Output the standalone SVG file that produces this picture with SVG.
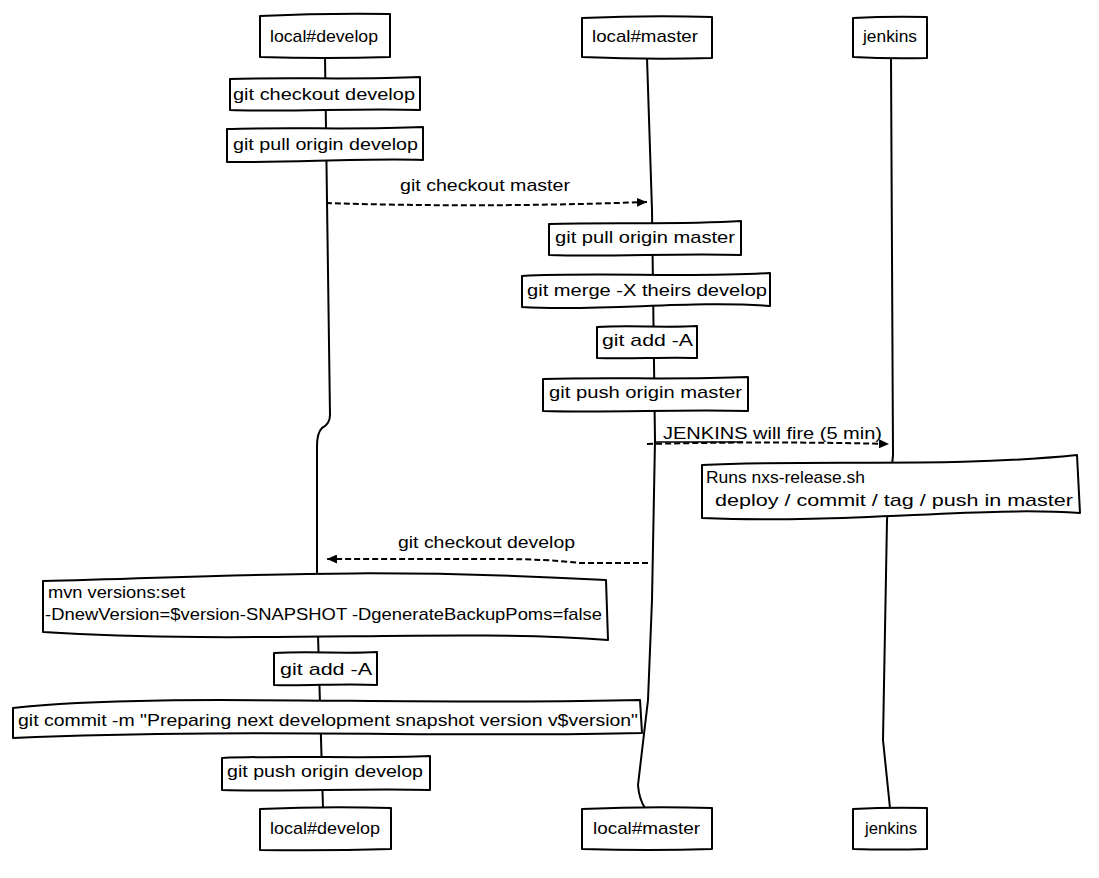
<svg xmlns="http://www.w3.org/2000/svg" width="1099" height="878" viewBox="0 0 1099 878">
<style>
.box{fill:#fff;stroke:#000;stroke-width:2;stroke-linejoin:round}
.life{fill:none;stroke:#000;stroke-width:2}
.msg{fill:none;stroke:#000;stroke-width:2;stroke-dasharray:6 3}
text{font-family:"Liberation Sans",Arial,sans-serif;font-size:17px;fill:#000}
</style>
<defs>
<marker id="ah" markerWidth="11" markerHeight="9" refX="10" refY="4.5" orient="auto" markerUnits="userSpaceOnUse">
<path d="M0,0 L10,4.5 L0,9 Z" fill="#000"/>
</marker>
</defs>
<rect width="1099" height="878" fill="#fff"/>
<g id="lifelines">
<path class="life" d="M325,57 L330,415 Q330,424 322,428 Q317,433 317,446 L317,600 L323,808"/>
<path class="life" d="M647,58 L652,210 L655,440 L652,600 L648,700 L638,785 Q639,799 645,808"/>
<path class="life" d="M891,58 L893,455 L887,520 L883,740 L890,808"/>
</g>
<g id="actor-develop-top"><path class="box" d="M260,16 Q325,13 390,14 L390,57 Q325,59 260,57 Z"/><text x="270" y="42" textLength="108" lengthAdjust="spacingAndGlyphs">local#develop</text></g>
<g id="actor-master-top"><path class="box" d="M582,18 Q650,15 712,17 L712,58 Q650,60 582,57 Z"/><text x="592" y="42" textLength="106" lengthAdjust="spacingAndGlyphs">local#master</text></g>
<g id="actor-jenkins-top"><path class="box" d="M853,18 Q890,16 927,17 L927,58 Q890,59 853,57 Z"/><text x="863" y="42" textLength="54" lengthAdjust="spacingAndGlyphs">jenkins</text></g>
<g id="connectors">
<path class="msg" d="M326,203 Q480,208 647,202" marker-end="url(#ah)"/>
<path class="msg" d="M647,444 Q770,441 889,444" marker-end="url(#ah)"/>
<path class="msg" d="M648,563 L580,563 Q545,559 500,559 L327,559" marker-end="url(#ah)"/>
<text x="400" y="191" textLength="170" lengthAdjust="spacingAndGlyphs">git checkout master</text>
<text x="663" y="439" textLength="219" lengthAdjust="spacingAndGlyphs">JENKINS will fire (5 min)</text>
<line x1="655" y1="442" x2="743" y2="442" stroke="#000" stroke-width="1.5"/>
<text x="398" y="548" textLength="177" lengthAdjust="spacingAndGlyphs">git checkout develop</text>
</g>
<g id="note-checkout-develop"><path class="box" d="M230,79 C290,77 360,80 420,77 L420,110 C360,108 290,112 230,110 Z"/><text x="233" y="100" textLength="182" lengthAdjust="spacingAndGlyphs">git checkout develop</text></g>
<g id="note-pull-develop"><path class="box" d="M227,129 C290,127 360,130 423,127 L423,160 C360,158 290,163 227,162 Z"/><text x="233" y="150" textLength="185" lengthAdjust="spacingAndGlyphs">git pull origin develop</text></g>
<g id="note-pull-master"><path class="box" d="M549,224 C610,222 680,225 741,221 L741,255 C680,253 610,257 549,255 Z"/><text x="555" y="243" textLength="180" lengthAdjust="spacingAndGlyphs">git pull origin master</text></g>
<g id="note-merge"><path class="box" d="M522,276 C600,272 690,278 770,273 L770,306 C690,300 600,312 522,307 Z"/><text x="527" y="296" textLength="240" lengthAdjust="spacingAndGlyphs">git merge -X theirs develop</text></g>
<g id="note-add-master"><path class="box" d="M597,327 C630,325 665,328 697,326 L697,358 C665,357 630,359 597,358 Z"/><text x="602" y="346" textLength="91" lengthAdjust="spacingAndGlyphs">git add -A</text></g>
<g id="note-push-master"><path class="box" d="M543,379 C610,377 680,380 748,377 L748,411 C680,409 610,413 543,411 Z"/><text x="549" y="398" textLength="193" lengthAdjust="spacingAndGlyphs">git push origin master</text></g>
<g id="note-jenkins"><path class="box" d="M702,465 C820,459 950,468 1077,455 L1080,513 C980,506 850,524 702,518 Z"/><text x="706" y="483" textLength="159" lengthAdjust="spacingAndGlyphs">Runs nxs-release.sh</text><text x="715" y="506" textLength="358" lengthAdjust="spacingAndGlyphs">deploy / commit / tag / push in master</text></g>
<g id="note-mvn"><path class="box" d="M43,581 C200,578 350,566 606,580 L608,640 C450,628 250,645 43,632 Z"/><text x="48" y="598" textLength="137" lengthAdjust="spacingAndGlyphs">mvn versions:set</text><text x="45" y="620" textLength="557" lengthAdjust="spacingAndGlyphs">-DnewVersion=$version-SNAPSHOT -DgenerateBackupPoms=false</text></g>
<g id="note-add-develop"><path class="box" d="M274,653 C310,651 345,654 377,652 L377,685 C345,683 310,686 274,685 Z"/><text x="280" y="675" textLength="92" lengthAdjust="spacingAndGlyphs">git add -A</text></g>
<g id="note-commit"><path class="box" d="M13,708 C150,692 400,706 640,700 L642,733 C450,738 250,728 13,738 Z"/><text x="18" y="726" textLength="620" lengthAdjust="spacingAndGlyphs">git commit -m "Preparing next development snapshot version v$version"</text></g>
<g id="note-push-develop"><path class="box" d="M222,758 C290,755 360,759 430,756 L430,790 C360,788 290,792 222,790 Z"/><text x="227" y="777" textLength="196" lengthAdjust="spacingAndGlyphs">git push origin develop</text></g>
<g id="actor-develop-bottom"><path class="box" d="M260,809 Q325,806 391,808 L391,849 Q325,851 260,850 Z"/><text x="270" y="834" textLength="110" lengthAdjust="spacingAndGlyphs">local#develop</text></g>
<g id="actor-master-bottom"><path class="box" d="M582,809 Q650,806 712,808 L712,849 Q650,851 582,849 Z"/><text x="593" y="834" textLength="107" lengthAdjust="spacingAndGlyphs">local#master</text></g>
<g id="actor-jenkins-bottom"><path class="box" d="M853,809 Q890,807 927,808 L927,849 Q890,850 853,849 Z"/><text x="865" y="834" textLength="52" lengthAdjust="spacingAndGlyphs">jenkins</text></g>
</svg>
